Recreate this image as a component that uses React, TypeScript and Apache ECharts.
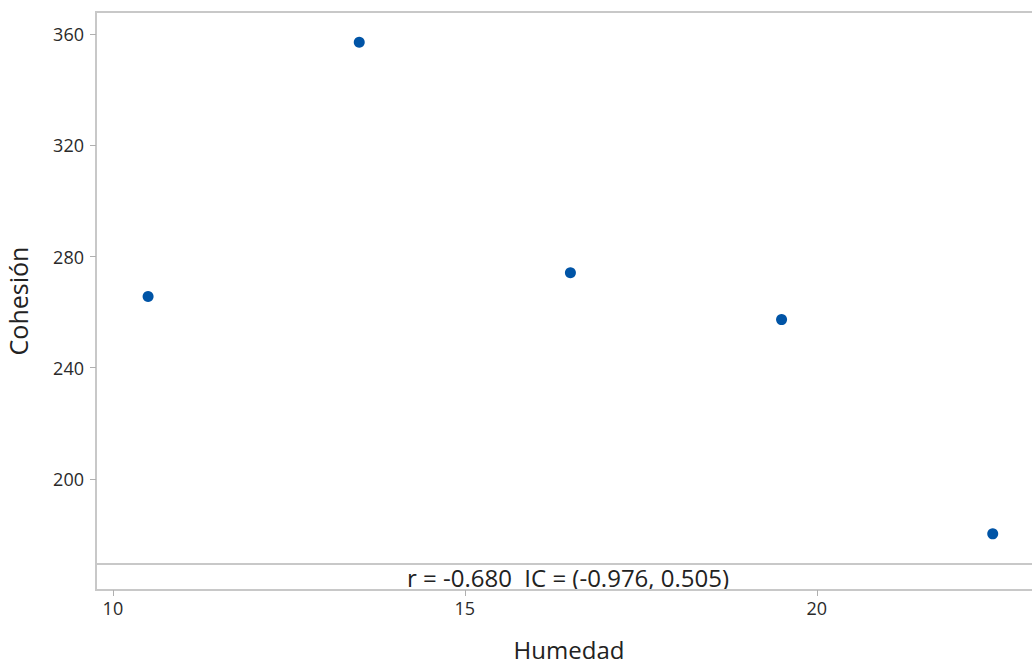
import React, { useEffect, useRef } from "react";
import * as echarts from "echarts";

const humedad = [10.5, 13.5, 16.5, 19.5, 22.5];
const cohesion = [265.6, 357.1, 274.2, 257.3, 180.2];
const xTicks = [10, 15, 20];
const yTicks = [200, 240, 280, 320, 360];
const statText = "r = -0.680  IC = (-0.976, 0.505)";
const xTitle = "Humedad";
const yTitle = "Cohesión";

const FONT = "'Open Sans', 'Noto Sans', sans-serif";

export default function App() {
  const ref = useRef<HTMLDivElement>(null);
  useEffect(() => {
    const chart = echarts.init(ref.current!, null, { renderer: "svg" });
    chart.setOption({
      animation: false,
      backgroundColor: "#ffffff",
      grid: {
        left: 96,
        top: 12,
        width: 946,
        height: 578,
        show: true,
        borderColor: "#c8c8c8",
        borderWidth: 2,
        backgroundColor: "#ffffff",
        outerBoundsMode: "none",
        containLabel: false,
      },
      xAxis: {
        type: "value",
        min: 9.76,
        max: 23.2,
        name: xTitle,
        nameLocation: "middle",
        nameGap: 47,
        nameTextStyle: { fontFamily: FONT, fontSize: 24, color: "#222" },
        splitLine: { show: false },
        axisLine: { show: true, lineStyle: { color: "#c8c8c8", width: 2 } },
        axisTick: {
          show: true,
          customValues: xTicks,
          length: 6,
          lineStyle: { color: "#b0b0b0", width: 1 },
        },
        axisLabel: {
          customValues: xTicks,
          fontFamily: FONT,
          fontSize: 18,
          color: "#2a2a2a",
          margin: 9,
        },
      },
      yAxis: {
        type: "value",
        min: 160,
        max: 368,
        name: yTitle,
        nameLocation: "middle",
        nameGap: 66,
        nameTextStyle: { fontFamily: FONT, fontSize: 25, color: "#222" },
        splitLine: { show: false },
        axisLine: { show: true, lineStyle: { color: "#c8c8c8", width: 2 } },
        axisTick: {
          show: true,
          customValues: yTicks,
          length: 6,
          lineStyle: { color: "#b0b0b0", width: 1 },
        },
        axisLabel: {
          customValues: yTicks,
          fontFamily: FONT,
          fontSize: 18,
          color: "#2a2a2a",
          margin: 12,
        },
      },
      series: [
        {
          type: "scatter",
          data: humedad.map((x, i) => [x, cohesion[i]]),
          symbol: "circle",
          symbolSize: 11,
          itemStyle: { color: "#0054a6", opacity: 1 },
          markLine: {
            silent: true,
            symbol: "none",
            label: { show: false },
            lineStyle: { color: "#c8c8c8", width: 2, type: "solid" },
            data: [{ yAxis: 169.4 }],
          },
        },
      ],
      graphic: [
        {
          type: "text",
          x: 568,
          y: 577,
          style: {
            text: statText,
            fontFamily: FONT,
            fontSize: 24,
            fill: "#222",
            textAlign: "center",
            textVerticalAlign: "middle",
          },
        },
      ],
    });
    return () => chart.dispose();
  }, []);
  return (
    <div
      ref={ref}
      style={{ position: "fixed", left: 0, top: 0, width: 1032, height: 666 }}
    />
  );
}
